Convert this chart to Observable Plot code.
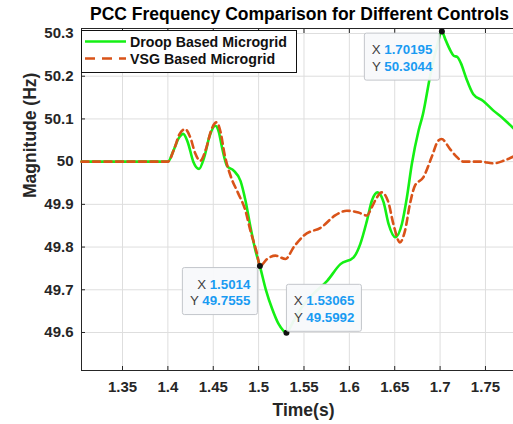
<!DOCTYPE html>
<html><head><meta charset="utf-8">
<script src="https://cdn.jsdelivr.net/npm/d3@7"></script>
<script src="https://cdn.jsdelivr.net/npm/@observablehq/plot@0.6"></script>
<style>
body{margin:0;background:#fff;}
</style></head><body><div id="chart"></div>
<script>
// ---- data ----
const title = "PCC Frequency Comparison for Different Controls";
const xLabel = "Time(s)";
const yLabel = "Magnitude (Hz)";
const seriesNames = ["Droop Based Microgrid", "VSG Based Microgrid"];

const droopT = [1.3048,1.4000,1.4060,1.4120,1.4169,1.4220,1.4280,1.4343,1.4400,1.4460,1.4524,1.4560,1.4597,1.4652,1.4725,1.4800,1.4855,1.4910,1.4965,1.5014,1.5080,1.5150,1.5220,1.5270,1.53065,1.5380,1.5480,1.5600,1.5756,1.5902,1.6047,1.6120,1.6194,1.6249,1.6312,1.6377,1.6432,1.6506,1.6579,1.6634,1.6689,1.6763,1.6810,1.6890,1.6960,1.70195,1.7060,1.7114,1.7150,1.7190,1.7230,1.7287,1.7366,1.7475,1.7585,1.7700,1.7809];
const droopF = [50,50,50.025,50.055,50.065,50.045,50.0,49.983,50.01,50.06,50.084,50.07,50.033,49.99,49.979,49.955,49.909,49.847,49.792,49.7555,49.70,49.655,49.62,49.605,49.5992,49.625,49.66,49.69,49.721,49.76,49.776,49.807,49.862,49.909,49.928,49.905,49.854,49.823,49.854,49.916,49.995,50.073,50.11,50.20,50.265,50.3044,50.285,50.26,50.248,50.245,50.23,50.196,50.158,50.142,50.12,50.10,50.078];

const vsgT = [1.3048,1.4000,1.4070,1.4130,1.4190,1.4250,1.4300,1.4357,1.4420,1.4480,1.4536,1.4580,1.4624,1.4697,1.4770,1.4855,1.4910,1.4983,1.5014,1.5094,1.5186,1.5296,1.5387,1.5498,1.5696,1.5843,1.5972,1.6100,1.6192,1.6247,1.6300,1.6357,1.6430,1.6485,1.6558,1.6613,1.6668,1.6723,1.6815,1.6906,1.6980,1.7016,1.7108,1.7170,1.7260,1.7445,1.7591,1.7700,1.7809];
const vsgF = [50,50,50.03,50.065,50.076,50.055,50.02,50.002,50.03,50.075,50.092,50.07,50.018,49.963,49.928,49.885,49.838,49.784,49.7555,49.772,49.78,49.772,49.8,49.827,49.847,49.874,49.885,49.881,49.874,49.893,49.915,49.928,49.905,49.854,49.811,49.838,49.901,49.944,49.963,50.01,50.049,50.053,50.03,50.014,50.0,50.0,49.996,50.002,50.012];

const xTicks = [1.35,1.4,1.45,1.5,1.55,1.6,1.65,1.7,1.75];
const yTicks = [49.6,49.7,49.8,49.9,50,50.1,50.2,50.3];
const xDomain = [1.3048, 1.7809];
const yDomain = [49.511, 50.3117];

const tipX = [1.70195, 1.5014, 1.53065];
const tipY = [50.3044, 49.7555, 49.5992];
const tipXText = ["1.70195", "1.5014", "1.53065"];
const tipYText = ["50.3044", "49.7555", "49.5992"];

// ---- styles ----
const FONT = "'Liberation Sans', Arial, Helvetica, sans-serif";
const GREEN = "#14f014";
const ORANGE = "#D95319";
const AXIS = "#262626";
const GRID = "#dedede";
const tipPlacement = ["left-below", "left-below", "right-above"];

const droop = droopT.map((t, i) => ({t, f: droopF[i]}));
const vsg = vsgT.map((t, i) => ({t, f: vsgF[i]}));
const tips = tipX.map((x, i) => ({x, y: tipY[i]}));
const fmtX = d => String(+d.toFixed(2));
const fmtY = d => String(+d.toFixed(1));

const plot = Plot.plot({
  width: 513, height: 424,
  marginLeft: 81, marginRight: 0, marginTop: 28, marginBottom: 54,
  style: {fontFamily: FONT, background: "#fff", overflow: "hidden"},
  x: {domain: xDomain, label: null},
  y: {domain: yDomain, label: null},
  marks: [
    Plot.gridX(xTicks, {stroke: GRID, strokeOpacity: 1}),
    Plot.gridY(yTicks, {stroke: GRID, strokeOpacity: 1}),
    Plot.ruleX([xDomain[0]], {stroke: AXIS, strokeWidth: 1}),
    Plot.ruleY([yDomain[0]], {stroke: AXIS, strokeWidth: 1}),
    Plot.ruleY([yDomain[1]], {stroke: AXIS, strokeWidth: 1}),
    Plot.axisX(xTicks, {anchor: "bottom", tickSize: 0, tickPadding: 11, tickFormat: fmtX, fontSize: 15, fontWeight: "bold", color: AXIS, label: null}),
    Plot.axisX(xTicks, {anchor: "bottom", tickSize: 4, dy: -4, tickFormat: () => "", stroke: AXIS, label: null}),
    Plot.axisX(xTicks, {anchor: "top", tickSize: 4, dy: 4, tickFormat: () => "", stroke: AXIS, label: null}),
    Plot.axisY(yTicks, {anchor: "left", tickSize: 0, tickPadding: 8, tickFormat: fmtY, fontSize: 15, fontWeight: "bold", color: AXIS, label: null}),
    Plot.axisY(yTicks, {anchor: "left", tickSize: 4, dx: 4, tickFormat: () => "", stroke: AXIS, label: null}),
    Plot.line(droop, {x: "t", y: "f", stroke: GREEN, strokeWidth: 2.6, curve: "monotone-x"}),
    Plot.line(vsg, {x: "t", y: "f", stroke: ORANGE, strokeWidth: 2.6, strokeDasharray: "7,4.5", curve: "monotone-x"}),
    Plot.dot(tips, {x: "x", y: "y", r: 3, fill: "#111", stroke: "none"}),
    Plot.text([title], {frameAnchor: "top", dy: -14, dx: 2, fontSize: 17.5, fontWeight: "bold", fill: "#000", lineAnchor: "middle"}),
    Plot.text([xLabel], {frameAnchor: "bottom", dy: 40, dx: 6, fontSize: 17.5, fontWeight: "bold", fill: AXIS, lineAnchor: "middle"}),
    Plot.text([yLabel], {frameAnchor: "left", dx: -51, dy: -1.5, rotate: -90, fontSize: 17.5, fontWeight: "bold", fill: AXIS, lineAnchor: "middle"})
  ]
});

const svg = d3.select(plot);
const xs = plot.scale("x"), ys = plot.scale("y");

// data tips
const TW = 75, TH = 47;
tips.forEach((d, i) => {
  const px = xs.apply(d.x), py = ys.apply(d.y);
  let bx, by;
  if (tipPlacement[i] === "left-below") { bx = px - 2 - TW; by = py + 2; }
  else { bx = px + 0.5; by = py - 1 - TH; }
  const g = svg.append("g").attr("font-family", FONT);
  g.append("rect").attr("x", bx).attr("y", by).attr("width", TW).attr("height", TH)
    .attr("rx", 2).attr("fill", "#f8f9fb").attr("fill-opacity", 0.95)
    .attr("stroke", "#c3c6cb").attr("stroke-width", 1);
  [["X", tipXText[i]], ["Y", tipYText[i]]].forEach(([lab, val], j) => {
    const t = g.append("text").attr("x", bx + TW - 7).attr("y", by + 21 + j * 16.5)
      .attr("text-anchor", "end").attr("font-size", 13.3);
    t.append("tspan").attr("fill", "#404040").text(lab + " ");
    t.append("tspan").attr("fill", "#1a9bf2").attr("font-weight", "bold").text(val);
  });
});

// legend
const lg = svg.append("g").attr("font-family", FONT).attr("text-anchor", "start");
const LX = 81, LY = 30;
lg.append("rect").attr("x", LX + 0.5).attr("y", LY + 0.5).attr("width", 215).attr("height", 42)
  .attr("fill", "#fff").attr("stroke", "#111").attr("stroke-width", 1);
const legendStyles = [{stroke: GREEN, dash: null}, {stroke: ORANGE, dash: "10,7"}];
seriesNames.forEach((name, i) => {
  const yy = LY + 11.5 + i * 17;
  lg.append("line").attr("x1", LX + 4).attr("x2", LX + 45).attr("y1", yy).attr("y2", yy)
    .attr("stroke", legendStyles[i].stroke).attr("stroke-width", 2.6)
    .attr("stroke-dasharray", legendStyles[i].dash);
  lg.append("text").attr("x", LX + 49).attr("y", yy + 5)
    .attr("text-anchor", "start")
    .style("font-size", "14.2px").style("font-weight", "bold")
    .attr("fill", "#111").text(name);
});

document.getElementById("chart").appendChild(plot);
</script>
</body></html>
